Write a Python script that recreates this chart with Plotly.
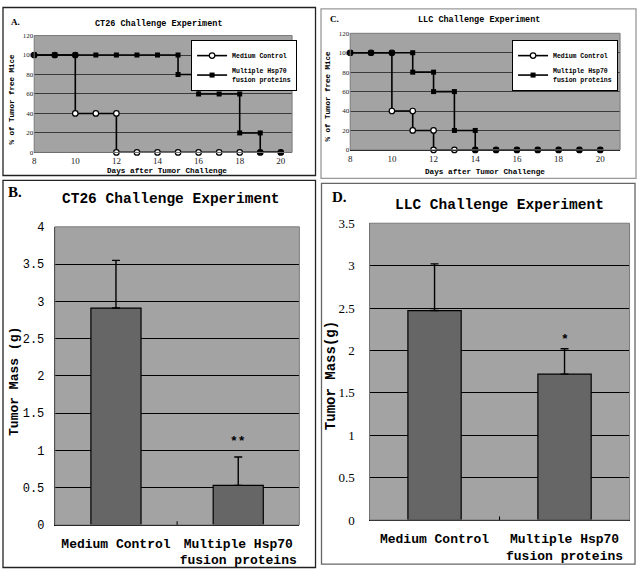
import plotly.graph_objects as go

# ---------------- data ----------------
# Tumor-free survival (%), step curves (duplicate x = drop on that day)
ct26_ctrl_x = [8, 9, 10, 10, 11, 12, 12, 13, 14, 15, 16, 17, 18, 19, 20]
ct26_ctrl_y = [100, 100, 100, 40, 40, 40, 0, 0, 0, 0, 0, 0, 0, 0, 0]
ct26_hsp_x = [8, 9, 10, 11, 12, 13, 14, 15, 15, 16, 16, 17, 18, 18, 19, 19, 20]
ct26_hsp_y = [100, 100, 100, 100, 100, 100, 100, 100, 80, 80, 60, 60, 60, 20, 20, 0, 0]

llc_ctrl_x = [8, 9, 10, 10, 11, 11, 12, 12, 13, 14, 15, 16, 17, 18, 19, 20]
llc_ctrl_y = [100, 100, 100, 40, 40, 20, 20, 0, 0, 0, 0, 0, 0, 0, 0, 0]
llc_hsp_x = [8, 9, 10, 11, 11, 12, 12, 13, 13, 14, 14, 15, 16, 17, 18, 19, 20]
llc_hsp_y = [100, 100, 100, 100, 80, 80, 60, 60, 20, 20, 0, 0, 0, 0, 0, 0, 0]

day_ticks = [8, 10, 12, 14, 16, 18, 20]
pct_ticks = [0, 20, 40, 60, 80, 100, 120]

series_names = ["Medium Control", "Multiple Hsp70<br>fusion proteins"]
groups = ["Medium Control", "Multiple Hsp70<br>fusion proteins"]

ct26_mass = [2.91, 0.53]
ct26_err = [0.64, 0.38]
ct26_sig = ["", "**"]

llc_mass = [2.47, 1.72]
llc_err = [0.55, 0.30]
llc_sig = ["", "*"]

# ---------------- styling ----------------
W, H = 640, 576
MONO = "Liberation Mono"
SERIF = "Liberation Serif"
PLOT_BG = "#a3a3a3"
BAR_FILL = "#666666"


def px(x):
    return x / W


def py(y):
    return 1 - y / H


fig = go.Figure()

ctrl_marker = dict(symbol="circle", size=5.5, color="white", line=dict(color="black", width=1.2))
hsp_marker = dict(symbol="square", size=5, color="black")

# ---- Panel A : CT26 survival ----
fig.add_trace(go.Scatter(
    x=ct26_ctrl_x, y=ct26_ctrl_y, name=series_names[0], mode="lines+markers",
    line=dict(color="black", width=1.6), marker=ctrl_marker,
    xaxis="x", yaxis="y", legend="legend", cliponaxis=False))
fig.add_trace(go.Scatter(
    x=ct26_hsp_x, y=ct26_hsp_y, name=series_names[1], mode="lines+markers",
    line=dict(color="black", width=1.6), marker=hsp_marker,
    xaxis="x", yaxis="y", legend="legend", cliponaxis=False))

# ---- Panel C : LLC survival ----
fig.add_trace(go.Scatter(
    x=llc_ctrl_x, y=llc_ctrl_y, name=series_names[0], mode="lines+markers",
    line=dict(color="black", width=1.6), marker=ctrl_marker,
    xaxis="x2", yaxis="y2", legend="legend2", cliponaxis=False))
fig.add_trace(go.Scatter(
    x=llc_hsp_x, y=llc_hsp_y, name=series_names[1], mode="lines+markers",
    line=dict(color="black", width=1.6), marker=hsp_marker,
    xaxis="x2", yaxis="y2", legend="legend2", cliponaxis=False))

# ---- Panel B : CT26 tumor mass ----
fig.add_trace(go.Bar(
    x=groups, y=ct26_mass, width=0.41,
    marker=dict(color=BAR_FILL, line=dict(color="black", width=1.2)),
    error_y=dict(type="data", symmetric=False, array=ct26_err,
                 arrayminus=[0] * len(ct26_err), color="black", thickness=1.4, width=4),
    xaxis="x3", yaxis="y3", showlegend=False))

# ---- Panel D : LLC tumor mass ----
fig.add_trace(go.Bar(
    x=groups, y=llc_mass, width=0.41,
    marker=dict(color=BAR_FILL, line=dict(color="black", width=1.2)),
    error_y=dict(type="data", symmetric=False, array=llc_err,
                 arrayminus=[0] * len(llc_err), color="black", thickness=1.4, width=4),
    xaxis="x4", yaxis="y4", showlegend=False))

# domains (pixel -> paper)
domA = dict(x=[px(32.3), px(291)], y=[py(149.3), py(29.3)])
domC = dict(x=[px(349.3), px(620)], y=[py(146.7), py(27)])
domB = dict(x=[px(53), px(298.3)], y=[py(531.7), py(225.7)])
domD = dict(x=[px(368.7), px(629.5)], y=[py(526.7), py(222)])

line_x = dict(tickmode="array", tickvals=day_ticks, ticks="", showgrid=False,
              showline=True, linecolor="black", linewidth=1, zeroline=False,
              ticklabelstandoff=0,
              tickfont=dict(family=SERIF, size=9, color="#222"))
line_y = dict(range=[0, 120], tickmode="array", tickvals=pct_ticks, ticks="",
              showgrid=True, gridcolor="#3a3a3a", gridwidth=1,
              showline=False, zeroline=False,
              tickfont=dict(family=SERIF, size=7, color="#222"))

legend_style = dict(xanchor="right", yanchor="top",
                    bgcolor="white", bordercolor="black", borderwidth=1,
                    font=dict(family=MONO, size=6.5, color="black", weight="bold"),
                    itemwidth=30, tracegroupgap=0)

fig.update_layout(
    width=W, height=H, autosize=False,
    margin=dict(l=0, r=0, t=0, b=0),
    paper_bgcolor="white", plot_bgcolor=PLOT_BG,
    xaxis=dict(domain=domA["x"], range=[8, 20.55], anchor="y", **line_x),
    yaxis=dict(domain=domA["y"], anchor="x", **line_y),
    xaxis2=dict(domain=domC["x"], range=[8, 20.95], anchor="y2", **line_x),
    yaxis2=dict(domain=domC["y"], anchor="x2", **line_y),
    xaxis3=dict(domain=domB["x"], anchor="y3", type="category", ticks="",
                showline=True, linecolor="black", linewidth=1.2, ticklabelstandoff=6,
                tickfont=dict(family=MONO, size=13, color="black", weight="bold")),
    yaxis3=dict(domain=domB["y"], anchor="x3", range=[0, 4], dtick=0.5, ticks="",
                showgrid=True, gridcolor="black", gridwidth=1, zeroline=False,
                showline=True, linecolor="black", linewidth=1.2, ticklabelstandoff=7,
                tickfont=dict(family=MONO, size=12, color="black")),
    xaxis4=dict(domain=domD["x"], anchor="y4", type="category", ticks="",
                showline=True, linecolor="black", linewidth=1.2, ticklabelstandoff=6,
                tickfont=dict(family=MONO, size=13, color="black", weight="bold")),
    yaxis4=dict(domain=domD["y"], anchor="x4", range=[0, 3.5], dtick=0.5, ticks="",
                showgrid=True, gridcolor="black", gridwidth=1, zeroline=False,
                showline=True, linecolor="black", linewidth=1.2, ticklabelstandoff=11,
                tickfont=dict(family=SERIF, size=13, color="black")),
    legend=dict(x=px(296), y=py(34), **legend_style),
    legend2=dict(x=px(618), y=py(34), **legend_style),
    showlegend=True,
)

shapes = []
# panel frames
for (x0, y0, x1, y1, c) in [(1, 0.5, 314.5, 173, "#222"), (320, 2, 636, 176, "#999"),
                            (1, 178, 314.5, 575.5, "#222"), (320.5, 181, 635, 572, "#666")]:
    shapes.append(dict(type="rect", xref="paper", yref="paper",
                       x0=px(x0), x1=px(x1), y0=py(y1), y1=py(y0),
                       line=dict(color=c, width=1.3), fillcolor="rgba(0,0,0,0)", layer="below"))
# plot-area borders
for d in (domA, domC, domB, domD):
    shapes.append(dict(type="rect", xref="paper", yref="paper",
                       x0=d["x"][0], x1=d["x"][1], y0=d["y"][0], y1=d["y"][1],
                       line=dict(color="#7a7a7a", width=1), fillcolor="rgba(0,0,0,0)", layer="above"))
# tick marks between categories
for xr, yr in (("x3", "y3 domain"), ("x4", "y4 domain")):
    shapes.append(dict(type="line", xref=xr, yref=yr, x0=0.5, x1=0.5, y0=0, y1=0.012,
                       line=dict(color="black", width=1)))
fig.update_layout(shapes=shapes)

ann = []


def text(x, y, s, size, family=MONO, bold=True, angle=0, xanchor="center"):
    ann.append(dict(x=px(x), y=py(y), xref="paper", yref="paper", text=s, showarrow=False,
                    xanchor=xanchor, yanchor="middle", textangle=angle,
                    font=dict(family=family, size=size, color="black",
                              weight="bold" if bold else "normal")))


# panel letters
text(7, 15, "A.", 9, SERIF, xanchor="left")
text(327, 12, "C.", 9, SERIF, xanchor="left")
text(4, 190, "B.", 15, SERIF, xanchor="left")
text(329, 195, "D.", 15, SERIF, xanchor="left")
# titles
text(157, 17, "CT26 Challenge Experiment", 8.5)
text(478, 13, "LLC Challenge Experiment", 8.5)
text(170, 197, "CT26 Challenge Experiment", 14.5)
text(499, 203, "LLC Challenge Experiment", 14.5)
# axis titles
text(10, 94, "% of Tumor free Mice", 7.5, angle=-90)
text(327, 91, "% of Tumor free Mice", 7.5, angle=-90)
text(166, 168, "Days after Tumor Challenge", 7.7)
text(485, 169, "Days after Tumor Challenge", 7.7)
text(12, 384, "Tumor Mass (g)", 13, angle=-90)
text(330, 378, "Tumor Mass(g)", 14, angle=-90)

# significance marks
for g, m, e, s in zip(groups, ct26_mass, ct26_err, ct26_sig):
    if s:
        ann.append(dict(x=g, y=m + e, xref="x3", yref="y3", text=s, showarrow=False,
                        yanchor="bottom", yshift=6,
                        font=dict(family=MONO, size=13, color="black", weight="bold")))
for g, m, e, s in zip(groups, llc_mass, llc_err, llc_sig):
    if s:
        ann.append(dict(x=g, y=m + e, xref="x4", yref="y4", text=s, showarrow=False,
                        yanchor="bottom", yshift=0,
                        font=dict(family=MONO, size=13, color="black", weight="bold")))

fig.update_layout(annotations=ann)

fig.write_html("out.html", config={"displayModeBar": False},
               post_script="document.body.style.margin='0px';document.body.style.overflow='hidden';")
